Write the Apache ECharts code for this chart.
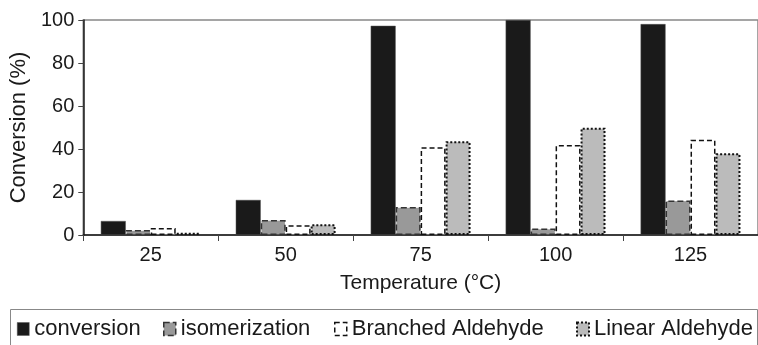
<!DOCTYPE html>
<html>
<head>
<meta charset="utf-8">
<script src="https://cdn.jsdelivr.net/npm/echarts@6/dist/echarts.min.js"></script>
<style>
  html, body { margin: 0; padding: 0; background: #fff; }
  #chart { width: 758px; height: 345px; }
</style>
</head>
<body>
<div id="chart"></div>
<script>
// 温度分类和各系列数值
const temperatures = ["25", "50", "75", "100", "125"];
const conversion = [6.5, 16.3, 97.3, 100, 98.1];
const isomerization = [2.3, 7, 13, 3, 16.1];
const branchedAldehyde = [3.2, 4.5, 40.8, 41.9, 44.3];
const linearAldehyde = [1, 5, 43.6, 49.9, 38];
const yTicks = [0, 20, 40, 60, 80, 100];

const font = "Liberation Sans, Arial, sans-serif";
const chart = echarts.init(document.getElementById("chart"));

// 各系列的柱子样式
const styles = {
  conversion: { color: "#1a1a1a", borderColor: "#555", borderWidth: 0.5 },
  isomerization: { color: "#999999", borderColor: "#333", borderWidth: 1.5, borderType: [6, 3] },
  branched: { color: "#ffffff", borderColor: "#111", borderWidth: 1.5, borderType: [5, 3] },
  linear: { color: "#bbbbbb", borderColor: "#111", borderWidth: 2, borderType: [2, 2] },
};

const legendText = { fontFamily: font, fontSize: 22, color: "#1a1a1a" };
const makeLegend = (name, left, style) => ({
  data: [name],
  left: left,
  top: 318,
  icon: "rect",
  itemWidth: 12,
  itemHeight: 13,
  itemGap: 0,
  padding: 0,
  itemStyle: style,
  textStyle: legendText,
  selectedMode: false,
});

const option = {
  animation: false,
  backgroundColor: "#fff",
  grid: {
    left: 82,
    right: -4,
    top: 20,
    bottom: 110,
    show: true,
    borderColor: "#888",
    borderWidth: 1.5,
  },
  legend: [
    makeLegend("conversion", 17, styles.conversion),
    makeLegend("isomerization", 163, styles.isomerization),
    makeLegend("Branched Aldehyde", 334, styles.branched),
    makeLegend("Linear Aldehyde", 576, styles.linear),
  ],
  graphic: [
    {
      type: "rect",
      left: 8,
      top: 307,
      shape: { width: 747, height: 50 },
      style: { fill: "none", stroke: "#888", lineWidth: 1 },
    },
  ],
  xAxis: {
    type: "category",
    data: temperatures,
    name: "Temperature (°C)",
    nameLocation: "middle",
    nameGap: 38,
    nameTextStyle: { fontFamily: font, fontSize: 21, color: "#1a1a1a" },
    axisLine: { lineStyle: { color: "#1a1a1a", width: 1.5 } },
    axisTick: { show: true, length: 6, lineStyle: { color: "#444" } },
    axisLabel: { fontFamily: font, fontSize: 20, color: "#1a1a1a", margin: 10 },
  },
  yAxis: {
    type: "value",
    min: 0,
    max: 100,
    interval: 20,
    name: "Conversion (%)",
    nameLocation: "middle",
    nameGap: 48,
    nameTextStyle: { fontFamily: font, fontSize: 22, color: "#1a1a1a" },
    axisLine: { show: true, lineStyle: { color: "#1a1a1a", width: 1.5 } },
    axisTick: { show: true, length: 5, lineStyle: { color: "#444" } },
    splitLine: { show: false },
    axisLabel: {
      fontFamily: font,
      fontSize: 20,
      color: "#1a1a1a",
      margin: 9,
      formatter: (v) => (yTicks.includes(v) ? String(v) : ""),
    },
  },
  series: [
    {
      name: "conversion",
      type: "bar",
      data: conversion,
      barGap: "0%",
      barCategoryGap: "26%",
      itemStyle: styles.conversion,
    },
    {
      name: "isomerization",
      type: "bar",
      data: isomerization,
      itemStyle: styles.isomerization,
    },
    {
      name: "Branched Aldehyde",
      type: "bar",
      data: branchedAldehyde,
      itemStyle: styles.branched,
    },
    {
      name: "Linear Aldehyde",
      type: "bar",
      data: linearAldehyde,
      itemStyle: styles.linear,
    },
  ],
};

chart.setOption(option);
</script>
</body>
</html>
